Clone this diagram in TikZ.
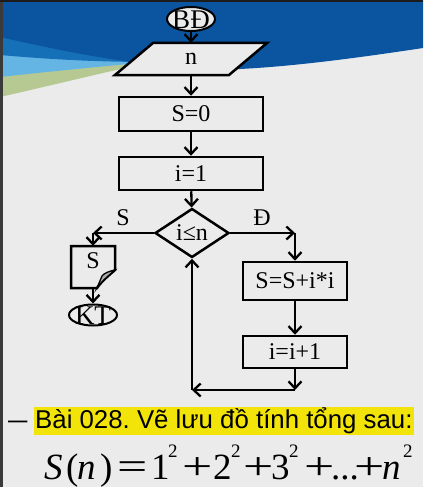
\documentclass[tikz,border=0pt]{standalone}
\usepackage{fontspec}
\usepackage{graphicx}
\setmainfont{Liberation Serif}
\newfontfamily\arialfam{Liberation Sans}
\usetikzlibrary{arrows.meta,shapes.geometric}
\definecolor{bgc}{RGB}{235,235,235}
\definecolor{dblue}{RGB}{10,84,160}
\definecolor{mblue}{RGB}{22,112,184}
\definecolor{cblue}{RGB}{100,180,228}
\definecolor{gband}{RGB}{182,201,146}
\definecolor{stripc}{RGB}{58,58,58}
\definecolor{topc}{RGB}{28,28,28}
\definecolor{hly}{RGB}{242,228,8}
\definecolor{flapc}{RGB}{170,170,170}
\newcommand\flowfont{\fontsize{24}{28}\selectfont}
\newcommand\termfont{\fontsize{27}{30}\selectfont}
\newcommand\eqfont{\fontsize{37}{40}\selectfont}
\newcommand\putat[2]{\makebox[0pt][l]{\hspace*{#1pt}#2}}
\newcommand\sqd{\raisebox{22pt}{\fontsize{19}{19}\selectfont 2}}
\newcommand\wplus{\scalebox{1.45}[1.05]{+}}
\newcommand\wequal{\scalebox{1.45}[1.05]{=}}
\begin{document}
\begin{tikzpicture}[x=1pt,y=-1pt,
  ln/.style={line width=2.5pt},
  arr/.style={line width=2.3pt,-{Straight Barb[length=7pt,width=13pt]}},
  box/.style={draw,line width=2.5pt,fill=bgc,minimum width=144pt,minimum height=34pt,inner sep=0pt,font=\flowfont},
  term/.style={ellipse,draw,line width=2pt,fill=bgc,inner sep=0pt},
  termtext/.style={inner sep=0pt,font=\termfont}]
\useasboundingbox (0,0) rectangle (423,487);
% background
\fill[bgc] (0,0) rectangle (423,487);
\fill[gband] (0,60) -- (0,97) .. controls (40,88) and (85,77) .. (125,68) -- (150,62) -- cycle;
\fill[cblue] (0,50) -- (0,77) .. controls (45,72) and (95,67) .. (150,62) -- (150,58) -- cycle;
\fill[mblue] (0,35) -- (0,55) .. controls (45,59) and (95,62) .. (150,62) -- (150,55) -- cycle;
\fill[dblue] (0,0) -- (423,0) -- (423,48) .. controls (370,56) and (300,66) .. (240,69) .. controls (200,70) and (170,66) .. (140,63) .. controls (90,57) and (40,46) .. (0,37) -- cycle;
\fill[stripc] (0,0) rectangle (3,487);
\fill[topc] (0,0) rectangle (423,2.5);
% flowchart
\node[term,minimum width=48pt,minimum height=24pt] (bd) at (191,19) {};
\node[termtext] (bdt) at (191,19.5) {BĐ};
\filldraw[ln,fill=bgc,line join=miter] (115,75) -- (229,75) -- (267,43) -- (153,43) -- cycle;
\node[inner sep=0pt,minimum width=114pt,minimum height=32pt,font=\flowfont] (inp) at (191,59) {n};
\node[box] (s0) at (191,114) {S=0};
\node[box,minimum height=33pt] (i1) at (191,173.5) {i=1};
\node[diamond,draw,ln,fill=bgc,inner sep=0pt,minimum width=74pt,minimum height=49pt,font=\flowfont] (dec) at (192,233) {i≤n};
\coordinate (lc) at (93,233);
\coordinate (rc) at (295,233);
\node[inner sep=0pt,minimum width=44pt,minimum height=42pt] (out) at (93,267) {};
\filldraw[ln,fill=bgc] (71,246) -- (115,246) -- (115,270) .. controls (108,276) and (101,282) .. (97,288) -- (71,288) -- cycle;
\filldraw[line width=1.3pt,fill=flapc] (115,270) .. controls (110,271) and (104,273) .. (102,276) -- (97,288) .. controls (101,282) and (108,276) .. (115,270) -- cycle;
\node[font=\flowfont,inner sep=0pt] (outt) at (93,261) {S};
\node[term,minimum width=48pt,minimum height=21pt] (kt) at (93,315) {};
\node[termtext] (ktt) at (93,315.5) {KT};
\node[box,minimum width=104pt,minimum height=38pt] (upd) at (295,281) {S=S+i*i};
\node[box,minimum width=104pt,minimum height=32pt] (inc) at (295,352) {i=i+1};
\coordinate (lb1) at (295,390);
\coordinate (lb2) at (192,390);
\node[font=\flowfont,inner sep=0pt] (ls) at (123,218) {S};
\node[font=\flowfont,inner sep=0pt] (ld) at (262,218) {Đ};
% connectors
\draw[arr] (bd) -- (inp.north);
\draw[arr] (inp.south) -- (s0);
\draw[arr] (s0) -- (i1);
\draw[arr] (i1) -- (dec);
\draw[arr] (dec.west) -- (lc);
\draw[arr] (lc) -- (out.north);
\draw[arr] (out.south) -- (kt);
\draw[arr] (dec.east) -- (rc);
\draw[arr] (rc) -- (upd);
\draw[arr] (upd) -- (inc);
\draw[arr] (inc) -- (lb1);
\draw[arr] (lb1) -- (lb2);
\draw[arr] (lb2) -- (dec);
% text
\node[anchor=base west,inner sep=0pt,font=\arialfam\fontsize{25.8}{30}\selectfont] (dash) at (8,428) {\scalebox{1.35}[1]{–}};
\node[fill=hly,anchor=base west,inner xsep=1.5pt,inner ysep=0pt,text height=21pt,text depth=7pt,font=\arialfam\fontsize{25.8}{30}\selectfont] (title) at (33.5,428) {\frenchspacing Bài 028. Vẽ lưu đồ tính tổng sau:};
\node[anchor=base west,inner sep=0pt,font=\eqfont] (eq) at (0,479) {%
\putat{44}{\textit{S}}\putat{66}{(}\putat{77}{\textit{n}}\putat{100}{)}%
\putat{117}{\wequal}\putat{151}{1}\putat{168}{\sqd}%
\putat{182}{\wplus}\putat{213}{2}\putat{231}{\sqd}%
\putat{243}{\wplus}\putat{271}{3}\putat{289}{\sqd}%
\putat{304}{\wplus}\putat{331}{...}\putat{354}{\wplus}%
\putat{382}{\textit{n}}\putat{403}{\sqd}\hspace*{418pt}};
\end{tikzpicture}
\end{document}
